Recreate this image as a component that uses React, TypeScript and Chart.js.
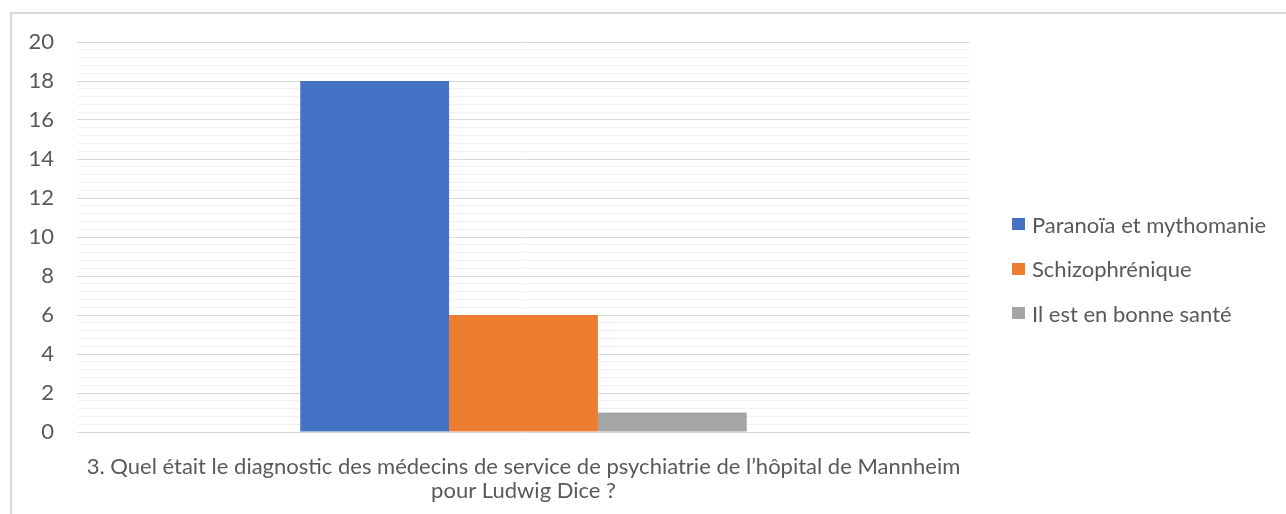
import React, { useEffect, useRef } from "react";
import { Chart, registerables } from "chart.js";

Chart.register(...registerables);

const categories: string[][] = [
  [
    "3. Quel était le diagnostic des médecins de service de psychiatrie de l’hôpital de Mannheim",
    "pour Ludwig Dice ?",
  ],
];
const seriesNames: string[] = [
  "Paranoïa et mythomanie",
  "Schizophrénique",
  "Il est en bonne santé",
];
const seriesValues: number[][] = [[18], [6], [1]];
const seriesColors: string[] = ["#4472c4", "#ed7d31", "#a5a5a5"];
const yMax = 20;
const yMajorStep = 2;
const yMinorStep = 0.4;

const FONT = "Lato, 'Open Sans', sans-serif";
const FONT_SIZE = 22;

export default function App() {
  const canvasRef = useRef<HTMLCanvasElement | null>(null);

  useEffect(() => {
    if (!canvasRef.current) return;
    const chart = new Chart(canvasRef.current, {
      type: "bar",
      data: {
        labels: categories,
        datasets: seriesNames.map((name, i) => ({
          label: name,
          data: seriesValues[i],
          backgroundColor: seriesColors[i],
          borderWidth: 0,
          categoryPercentage: 0.5,
          barPercentage: 1,
        })),
      },
      options: {
        animation: false,
        responsive: false,
        maintainAspectRatio: false,
        layout: { padding: { left: 0, right: 316, top: 42, bottom: 0 } },
        plugins: {
          legend: { display: false },
          tooltip: { enabled: false },
        },
        scales: {
          x: {
            grid: { display: false, drawTicks: false },
            border: { display: false },
            ticks: {
              color: "#595959",
              font: { family: FONT, size: FONT_SIZE, lineHeight: 1.1 },
              padding: 23,
              maxRotation: 0,
            },
            afterFit: (s: any) => {
              s.height = 82;
            },
          },
          y: {
            min: 0,
            max: yMax,
            grid: {
              drawTicks: false,
              color: (ctx: any) => {
                const v = ctx.tick ? ctx.tick.value : 0;
                const r = Math.abs(v / yMajorStep - Math.round(v / yMajorStep));
                return r < 1e-6 ? "#d9d9d9" : "#f2f2f2";
              },
              lineWidth: 1,
            },
            border: { display: false },
            ticks: {
              stepSize: yMinorStep,
              autoSkip: false,
              color: "#595959",
              font: { family: FONT, size: FONT_SIZE },
              padding: 23,
              callback: (v: any) => {
                const n = Number(v);
                const r = Math.abs(n / yMajorStep - Math.round(n / yMajorStep));
                return r < 1e-6 ? String(Math.round(n)) : "";
              },
            },
            afterFit: (s: any) => {
              s.width = 77;
            },
          },
        },
      },
    });
    return () => chart.destroy();
  }, []);

  return (
    <div
      style={{
        position: "fixed",
        left: 0,
        top: 0,
        width: 1286,
        height: 514,
        background: "#ffffff",
        overflow: "hidden",
      }}
    >
      <div
        style={{
          position: "absolute",
          left: 10,
          top: 12,
          width: 1300,
          height: 520,
          border: "2px solid #d9d9d9",
          boxSizing: "border-box",
        }}
      />
      <canvas
        ref={canvasRef}
        width={1286}
        height={514}
        style={{ position: "absolute", left: 0, top: 0, width: 1286, height: 514 }}
      />
      {seriesNames.map((name, i) => (
        <div
          key={name}
          style={{
            position: "absolute",
            left: 1012,
            top: 224 + i * 44.5 - 14,
            height: 28,
            display: "flex",
            alignItems: "center",
            fontFamily: FONT,
            fontSize: FONT_SIZE,
            color: "#595959",
            whiteSpace: "nowrap",
          }}
        >
          <span
            style={{
              display: "inline-block",
              width: 13,
              height: 12,
              background: seriesColors[i],
              marginRight: 7,
            }}
          />
          {name}
        </div>
      ))}
    </div>
  );
}
